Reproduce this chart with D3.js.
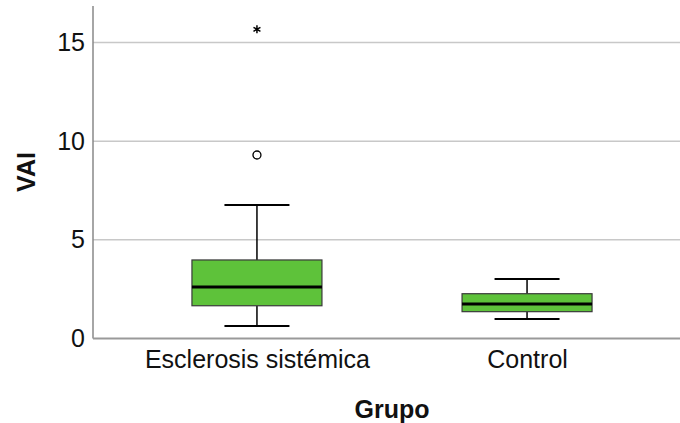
<!DOCTYPE html>
<html>
<head>
<meta charset="utf-8">
<script src="https://cdn.jsdelivr.net/npm/d3@7"></script>
<style>
  body { margin: 0; background: #fff; }
  svg { display: block; font-family: "Liberation Sans", Arial, sans-serif; }
</style>
</head>
<body>
<svg id="chart" width="680" height="423"></svg>
<script>
const categories = ['Esclerosis sistémica', 'Control']
const whiskerLow = [0.63, 0.99]
const q1 = [1.66, 1.36]
const median = [2.61, 1.75]
const q3 = [3.98, 2.27]
const whiskerHigh = [6.77, 3.02]
// circle = outlier, star = extreme
const outliers = [[9.3], []]
const extremes = [[15.67], []]
const yTicks = [0, 5, 10, 15]

const svg = d3.select('#chart')
const plotLeft = 93, plotRight = 680, plotTop = 6, plotBottom = 338.5
const boxW = 130
const fontSize = '25px'

const y = d3.scaleLinear().domain([0, 16.85]).range([plotBottom, plotTop])
const x = d3.scalePoint().domain(categories).range([plotLeft, 691]).padding(0.607)

// gridlines
svg.append('g')
  .selectAll('line')
  .data(yTicks.filter(d => d > 0))
  .enter()
  .append('line')
  .attr('x1', plotLeft).attr('x2', plotRight)
  .attr('y1', d => y(d)).attr('y2', d => y(d))
  .style('stroke', '#c8c8c8')
  .style('stroke-width', 1.5)

// y axis
const yAxis = svg.append('g')
  .attr('transform', `translate(${plotLeft},0)`)
  .call(d3.axisLeft(y).tickValues(yTicks).tickSize(0).tickPadding(8))
yAxis.select('.domain').remove()
yAxis.selectAll('text')
  .style('font-size', fontSize)
  .style('fill', '#111')
  .style('font-family', '"Liberation Sans", Arial, sans-serif')

svg.append('line')
  .attr('x1', plotLeft).attr('x2', plotLeft)
  .attr('y1', plotTop).attr('y2', plotBottom)
  .style('stroke', '#888')
  .style('stroke-width', 1.5)

svg.append('line')
  .attr('x1', plotLeft).attr('x2', plotRight)
  .attr('y1', plotBottom).attr('y2', plotBottom)
  .style('stroke', '#999')
  .style('stroke-width', 2)

// x axis labels
const xAxis = svg.append('g')
  .attr('transform', `translate(0,${plotBottom})`)
  .call(d3.axisBottom(x).tickSize(0).tickPadding(12))
xAxis.select('.domain').remove()
xAxis.selectAll('text')
  .style('font-size', fontSize)
  .style('fill', '#111')
  .style('font-family', '"Liberation Sans", Arial, sans-serif')

// titles
svg.append('text')
  .attr('x', 392).attr('y', 418)
  .attr('text-anchor', 'middle')
  .style('font-size', fontSize)
  .style('font-weight', 'bold')
  .style('fill', '#111')
  .text('Grupo')

svg.append('text')
  .attr('transform', 'translate(35,172) rotate(-90)')
  .attr('text-anchor', 'middle')
  .style('font-size', fontSize)
  .style('font-weight', 'bold')
  .style('fill', '#111')
  .text('VAI')

// boxes
const boxes = svg.append('g')
  .selectAll('g')
  .data(categories)
  .enter()
  .append('g')

boxes.append('line')
  .attr('x1', d => x(d)).attr('x2', d => x(d))
  .attr('y1', (d, i) => y(whiskerLow[i])).attr('y2', (d, i) => y(q1[i]))
  .style('stroke', '#000').style('stroke-width', 1.5)
boxes.append('line')
  .attr('x1', d => x(d)).attr('x2', d => x(d))
  .attr('y1', (d, i) => y(q3[i])).attr('y2', (d, i) => y(whiskerHigh[i]))
  .style('stroke', '#000').style('stroke-width', 1.5)

boxes.append('line')
  .attr('x1', d => x(d) - boxW / 4).attr('x2', d => x(d) + boxW / 4)
  .attr('y1', (d, i) => y(whiskerLow[i])).attr('y2', (d, i) => y(whiskerLow[i]))
  .style('stroke', '#000').style('stroke-width', 2)
boxes.append('line')
  .attr('x1', d => x(d) - boxW / 4).attr('x2', d => x(d) + boxW / 4)
  .attr('y1', (d, i) => y(whiskerHigh[i])).attr('y2', (d, i) => y(whiskerHigh[i]))
  .style('stroke', '#000').style('stroke-width', 2)

boxes.append('rect')
  .attr('x', d => x(d) - boxW / 2)
  .attr('width', boxW)
  .attr('y', (d, i) => y(q3[i]))
  .attr('height', (d, i) => y(q1[i]) - y(q3[i]))
  .style('fill', '#5ec23a')
  .style('stroke', '#3a3a3a')
  .style('stroke-width', 1.2)

boxes.append('line')
  .attr('x1', d => x(d) - boxW / 2).attr('x2', d => x(d) + boxW / 2)
  .attr('y1', (d, i) => y(median[i])).attr('y2', (d, i) => y(median[i]))
  .style('stroke', '#000').style('stroke-width', 3)

boxes.selectAll('circle')
  .data((d, i) => outliers[i].map(v => ({ cat: d, v })))
  .enter()
  .append('circle')
  .attr('cx', d => x(d.cat))
  .attr('cy', d => y(d.v))
  .attr('r', 4)
  .style('fill', 'none')
  .style('stroke', '#000')
  .style('stroke-width', 1.3)

boxes.selectAll('path.extreme')
  .data((d, i) => extremes[i].map(v => ({ cat: d, v })))
  .enter()
  .append('path')
  .attr('class', 'extreme')
  .attr('transform', d => `translate(${x(d.cat)},${y(d.v)})`)
  .attr('d', d3.symbol(d3.symbolAsterisk, 45))
  .style('fill', 'none')
  .style('stroke', '#000')
  .style('stroke-width', 1.5)
</script>
</body>
</html>
